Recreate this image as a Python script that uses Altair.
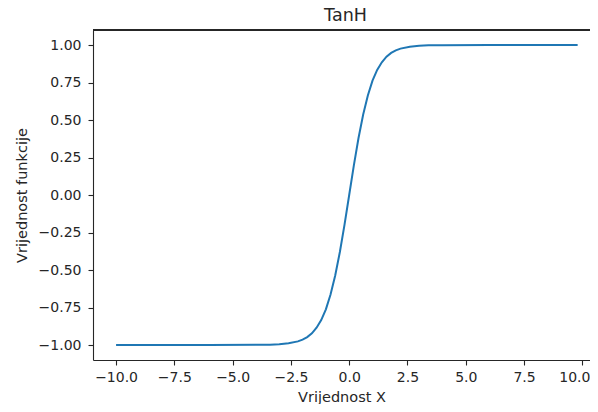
import altair as alt
import pandas as pd

x_vals = [-10.0, -8.0, -6.0, -4.0, -3.4, -3.0, -2.6, -2.2, -2.0, -1.8, -1.6, -1.4,
          -1.2, -1.0, -0.8, -0.6, -0.4, -0.2, 0.0, 0.2, 0.4, 0.6, 0.8, 1.0, 1.2,
          1.4, 1.6, 1.8, 2.0, 2.2, 2.6, 3.0, 3.4, 4.0, 6.0, 8.0, 9.8]
y_vals = [-1.0, -1.0, -1.0, -0.999, -0.998, -0.995, -0.989, -0.976, -0.964, -0.947,
          -0.922, -0.885, -0.834, -0.762, -0.664, -0.537, -0.380, -0.197, 0.0,
          0.197, 0.380, 0.537, 0.664, 0.762, 0.834, 0.885, 0.922, 0.947, 0.964,
          0.976, 0.989, 0.995, 0.998, 0.999, 1.0, 1.0, 1.0]

x_ticks = [-10.0, -7.5, -5.0, -2.5, 0.0, 2.5, 5.0, 7.5, 10.0]
y_ticks = [-1.0, -0.75, -0.5, -0.25, 0.0, 0.25, 0.5, 0.75, 1.0]

df = pd.DataFrame({"x": x_vals, "y": y_vals})

W, H = 497, 330
FONT = "DejaVu Sans"
TXT = "#262626"

minus_expr = "replace(datum.label, '-', '\u2212')"

line = alt.Chart(df).mark_line(color="#1f77b4", strokeWidth=2).encode(
    x=alt.X("x:Q",
            scale=alt.Scale(domain=[-10.99, 10.33], nice=False, zero=False),
            axis=alt.Axis(values=x_ticks, format=".1f", labelExpr=minus_expr,
                          title="Vrijednost X", grid=False,
                          labelPadding=5, titlePadding=6,
                          labelOffset={"condition": {"test": "datum.value >= 10", "value": -8},
                                       "value": 0})),
    y=alt.Y("y:Q",
            scale=alt.Scale(domain=[-1.1, 1.1], nice=False, zero=False),
            axis=alt.Axis(values=y_ticks, format=".2f", labelExpr=minus_expr,
                          title="Vrijednost funkcije", grid=False,
                          labelPadding=7, titlePadding=9)),
)

top_spine = alt.Chart(df).mark_rule(color=TXT, strokeWidth=1.1).encode(
    x=alt.value(0), x2=alt.value(W), y=alt.value(0)
)

chart = alt.layer(line, top_spine).properties(
    width=W, height=H,
    title=alt.TitleParams("TanH", font=FONT, fontSize=17.5, fontWeight="normal",
                          color=TXT, anchor="middle", dx=4, offset=5),
    autosize=alt.AutoSizeParams(type="none"),
    padding={"left": 85, "top": 22, "right": 0, "bottom": 44},
).configure_view(stroke=None).configure_axis(
    labelFont=FONT, labelFontSize=14, labelColor=TXT,
    titleFont=FONT, titleFontSize=14.5, titleColor=TXT, titleFontWeight="normal",
    domainColor=TXT, domainWidth=1.1, tickColor=TXT, tickWidth=1.1, tickSize=5,
)

chart.save("out.html", embed_options={"renderer": "svg", "actions": False})
